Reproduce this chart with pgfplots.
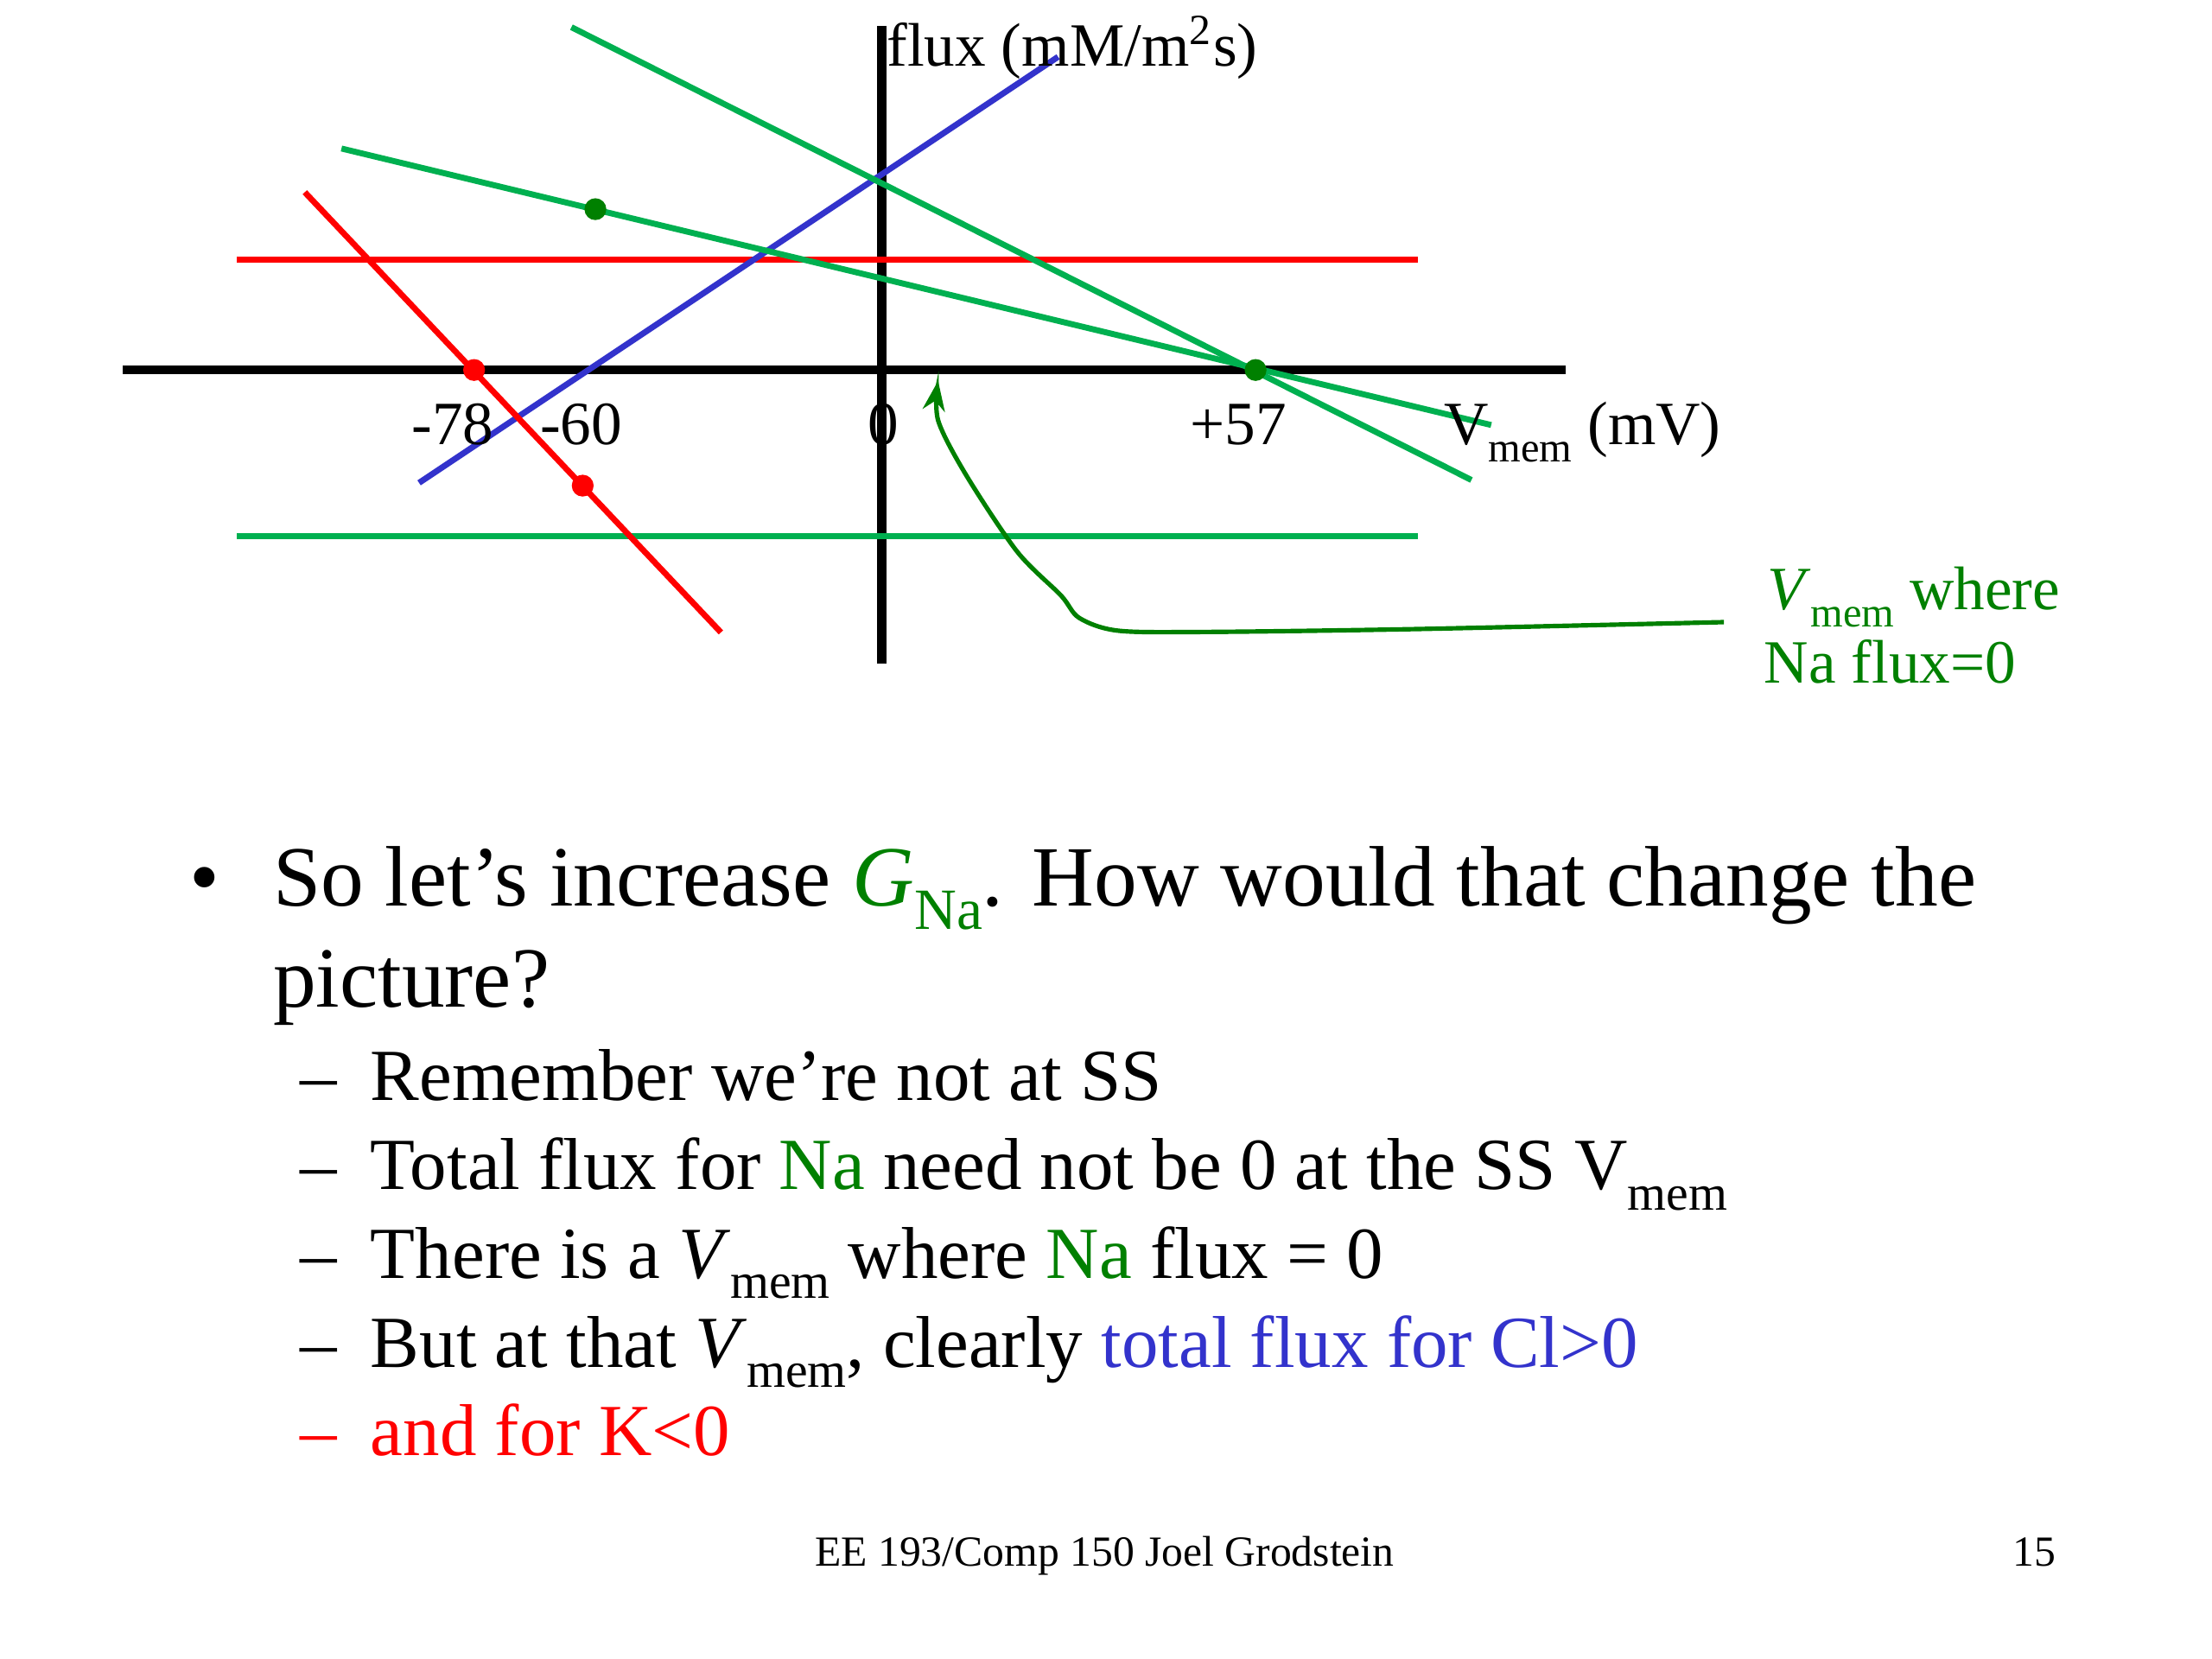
\documentclass[border=0pt]{standalone}
\usepackage{pgfplots}
\pgfplotsset{compat=1.18}
\usepackage{fontspec}
\setmainfont{Liberation Serif}
\usetikzlibrary{arrows.meta}
\definecolor{lgreen}{RGB}{0,176,80}
\definecolor{dgreen}{RGB}{0,128,0}
\definecolor{lblue}{RGB}{51,51,204}
\definecolor{lred}{RGB}{255,0,0}
\newcommand{\low}[1]{\raisebox{-0.28em}{\scalebox{0.68}{#1}}}
\newcommand{\chartfont}{\fontsize{12.4pt}{14pt}\selectfont}
\newcommand{\mainfont}{\fontsize{17.3pt}{20pt}\selectfont}
\newcommand{\subfont}{\fontsize{14.8pt}{17pt}\selectfont}
\newcommand{\footfont}{\fontsize{8.65pt}{10pt}\selectfont}
\begin{document}
\begin{tikzpicture}[x=0.01cm,y=-0.01cm]
\fill[white] (0,0) rectangle (1568,1176);
\begin{axis}[at={(0.87cm,-4.70cm)}, anchor=south west, x=0.01cm, y=0.01cm,
  xmin=-538, xmax=485, ymin=-208, ymax=244,
  axis lines=middle, axis line style={-, line width=1.8pt, black},
  xtick=\empty, ytick=\empty, enlargelimits=false, clip=false]
\addplot[lred, line width=1.2pt] coordinates {(-457,78) (380,78)};
\addplot[lgreen, line width=1.2pt] coordinates {(-457,-118) (380,-118)};
\addplot[lblue, line width=1.2pt] coordinates {(-328,-80) (125,222)};
\addplot[lred, line width=1.2pt] coordinates {(-409,126) (-114,-186)};
\addplot[lgreen, line width=1.2pt] coordinates {(-220,243) (418,-78)};
\addplot[lgreen, line width=1.2pt] coordinates {(-383,157) (432,-39)};
\addplot[only marks, mark=*, mark size=2pt, lred] coordinates {(-289,0) (-212,-82)};
\addplot[only marks, mark=*, mark size=2pt, dgreen] coordinates {(-203,114) (265,0)};
\end{axis}
% annotation arrow
\draw[dgreen, line width=0.9pt, -{Stealth[length=6pt,width=4.5pt]}]
  plot[smooth, tension=0.5] coordinates {(1222,441) (1000,446) (850,448) (792,447) (765,438) (752,422) (721,391) (685,337) (665,298) (665,270)};
% chart labels
\chartfont
\node[anchor=base west, inner sep=0] at (628,47) {flux (mM/m\textsuperscript{2}s)};
\node[anchor=base, inner sep=0] at (321,315) {-78};
\node[anchor=base, inner sep=0] at (412,315) {-60};
\node[anchor=base, inner sep=0] at (626,315) {0};
\node[anchor=base, inner sep=0] at (878,315) {+57};
\node[anchor=base west, inner sep=0] at (1023,315) {V\low{mem} (mV)};
\node[anchor=base west, inner sep=0, text=dgreen] at (1252,432) {\textit{V}\low{mem} where};
\node[anchor=base west, inner sep=0, text=dgreen] at (1250,484) {Na flux=0};
% bullet text
\mainfont
\node[anchor=base west, inner sep=0] at (134,642) {•};
\node[anchor=base west, inner sep=0] at (193,642) {So let’s increase \textcolor{dgreen}{\textit{G}\low{Na}}. How would that change the};
\node[anchor=base west, inner sep=0] at (193,714) {picture?};
\subfont
\node[anchor=base west, inner sep=0] at (212,780) {–};
\node[anchor=base west, inner sep=0] at (262,780) {Remember we’re not at SS};
\node[anchor=base west, inner sep=0] at (212,843) {–};
\node[anchor=base west, inner sep=0] at (262,843) {Total flux for \textcolor{dgreen}{Na} need not be 0 at the SS V\low{mem}};
\node[anchor=base west, inner sep=0] at (212,906) {–};
\node[anchor=base west, inner sep=0] at (262,906) {There is a \textit{V}\low{mem} where \textcolor{dgreen}{Na} flux = 0};
\node[anchor=base west, inner sep=0] at (212,969) {–};
\node[anchor=base west, inner sep=0] at (262,969) {But at that \textit{V}\low{mem}, clearly \textcolor{lblue}{total flux for Cl>0}};
\node[anchor=base west, inner sep=0, text=lred] at (212,1032) {–};
\node[anchor=base west, inner sep=0, text=lred] at (262,1032) {and for K<0};
\footfont
\node[anchor=base, inner sep=0] at (783,1110) {EE 193/Comp 150 Joel Grodstein};
\node[anchor=base east, inner sep=0] at (1458,1110) {15};
\end{tikzpicture}
\end{document}
